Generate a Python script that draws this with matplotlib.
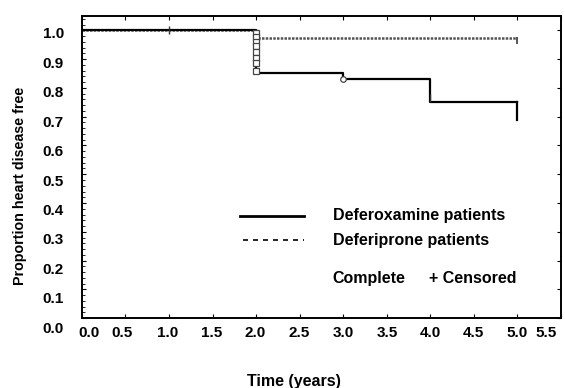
import matplotlib.pyplot as plt
from matplotlib.ticker import MultipleLocator
from matplotlib.transforms import ScaledTranslation

plt.rcParams['font.family'] = ['Liberation Sans', 'DejaVu Sans']

# Kaplan-Meier steps
dfo_times = [0.0, 2.0, 3.0, 4.0, 5.0]
dfo_surv = [1.0, 0.85, 0.83, 0.75, 0.75]
dfo_end = 0.69
dfp_times = [0.0, 2.0, 5.0]
dfp_surv = [1.0, 0.972, 0.972]
dfp_end = 0.955

# censored marks
cens_sq_x = [2.0] * 8
cens_sq_y = [0.99, 0.975, 0.96, 0.945, 0.925, 0.905, 0.885, 0.86]
cens_circ_x = [3.0]
cens_circ_y = [0.83]
cens_plus_x = [1.0, 4.0]
cens_plus_y = [1.0, 0.765]

xticks = [0.0, 0.5, 1.0, 1.5, 2.0, 2.5, 3.0, 3.5, 4.0, 4.5, 5.0, 5.5]
yticks = [0.0, 0.1, 0.2, 0.3, 0.4, 0.5, 0.6, 0.7, 0.8, 0.9, 1.0]

fig = plt.figure(figsize=(5.65, 3.88), dpi=100)
ax = fig.add_axes([0.145, 0.180, 0.848, 0.779])

ax.step(dfp_times, dfp_surv, where='post', color='#555555', lw=1.8, ls=(0, (1.0, 0.5)), zorder=2)
ax.plot([5.0, 5.0], [dfp_surv[-1], dfp_end], color='#555555', lw=1.4, zorder=2)
ax.step(dfo_times, dfo_surv, where='post', color='black', lw=1.6, zorder=3)
ax.plot([5.0, 5.0], [dfo_surv[-1], dfo_end], color='black', lw=1.6, zorder=3)

ax.plot(cens_sq_x, cens_sq_y, ls='none', marker='s', ms=4, mfc='white', mec='#444444', mew=0.9, zorder=4)
ax.plot(cens_circ_x, cens_circ_y, ls='none', marker='o', ms=4, mfc='white', mec='#444444', mew=0.9, zorder=4)
ax.plot(cens_plus_x, cens_plus_y, ls='none', marker='|', ms=6, color='#333333', mew=1.0, zorder=4)

ax.set_xlim(0, 5.5)
ax.set_ylim(0, 1.05)
ax.set_xticks(xticks)
ax.set_xticklabels(['%.1f' % v for v in xticks])
ax.set_yticks(yticks)
ax.set_yticklabels(['%.1f' % v for v in yticks])
ax.yaxis.set_minor_locator(MultipleLocator(0.02))
ax.tick_params(axis='both', which='major', labelsize=11, direction='in', length=3, width=0.8,
               top=True, right=True)
ax.tick_params(axis='x', pad=6)
ax.tick_params(axis='y', pad=13)
ax.tick_params(axis='y', which='minor', direction='in', length=2, width=0.6, left=True, right=False)
for s in ax.spines.values():
    s.set_linewidth(1.4)

# the scanned labels sit a little off their ticks
x_shift = [7, -3.5, -1, -1, -1, -1, 0, 0, 0, -1, -0.5, -15]
for lab, dx in zip(ax.get_xticklabels(), x_shift):
    lab.set_fontweight('bold')
    lab.set_transform(lab.get_transform() + ScaledTranslation(dx / 100, 0, fig.dpi_scale_trans))
for i, lab in enumerate(ax.get_yticklabels()):
    lab.set_fontweight('bold')
    dy = 9 - 0.64 * i
    lab.set_transform(lab.get_transform() + ScaledTranslation(0, -dy / 100, fig.dpi_scale_trans))

fig.text(0.036, 0.52, 'Proportion heart disease free', fontsize=10.3, fontweight='bold',
         rotation=90, ha='center', va='center')
fig.text(0.52, 0.018, 'Time (years)', fontsize=11.5, fontweight='bold', ha='center', va='center')

# legend drawn by hand
ax.plot([1.81, 2.55], [0.355, 0.355], color='black', lw=2)
ax.plot([1.85, 2.55], [0.271, 0.271], color='black', lw=1.2, ls=(0, (3, 3)))
ax.text(2.88, 0.355, 'Deferoxamine patients', fontsize=11.5, fontweight='bold', va='center')
ax.text(2.88, 0.271, 'Deferiprone patients', fontsize=11.5, fontweight='bold', va='center')
ax.text(2.88, 0.139, 'Complete', fontsize=11.5, fontweight='bold', va='center')
ax.text(3.98, 0.139, '+ Censored', fontsize=11.5, fontweight='bold', va='center')

fig.savefig('out.png', dpi=100)
